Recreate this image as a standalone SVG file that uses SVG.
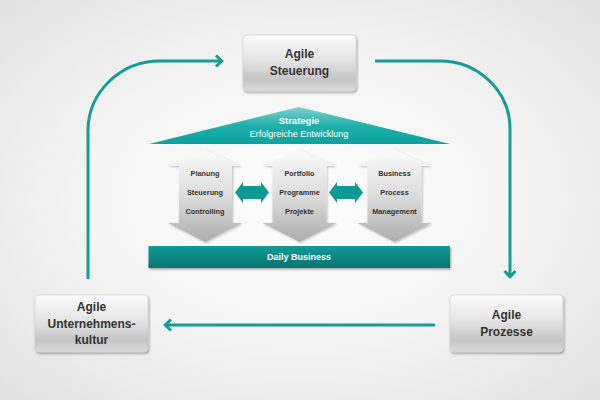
<svg xmlns="http://www.w3.org/2000/svg" width="600" height="400" viewBox="0 0 600 400">
  <defs>
    <radialGradient id="bg" cx="50%" cy="50%" r="75%">
      <stop offset="0" stop-color="#fdfdfd"/>
      <stop offset="0.5" stop-color="#f3f3f3"/>
      <stop offset="1" stop-color="#dedede"/>
    </radialGradient>
    <linearGradient id="boxGrad" x1="0" y1="0" x2="0" y2="1">
      <stop offset="0" stop-color="#fbfbfb"/>
      <stop offset="0.45" stop-color="#e4e4e4"/>
      <stop offset="0.8" stop-color="#c4c4c4"/>
      <stop offset="1" stop-color="#dcdcdc"/>
    </linearGradient>
    <linearGradient id="arrGrad" x1="0" y1="0" x2="0" y2="1">
      <stop offset="0" stop-color="#fbfbfb"/>
      <stop offset="0.5" stop-color="#dcdcdc"/>
      <stop offset="1" stop-color="#adadad"/>
    </linearGradient>
    <linearGradient id="roofGrad" x1="0" y1="0" x2="0" y2="1">
      <stop offset="0" stop-color="#7fd3cf"/>
      <stop offset="0.5" stop-color="#1fb0ab"/>
      <stop offset="1" stop-color="#0aa39e"/>
    </linearGradient>
    <linearGradient id="barGrad" x1="0" y1="0" x2="0" y2="1">
      <stop offset="0" stop-color="#129d98"/>
      <stop offset="1" stop-color="#0a716e"/>
    </linearGradient>
    <filter id="shadow" x="-10%" y="-10%" width="125%" height="135%">
      <feDropShadow dx="1" dy="1.5" stdDeviation="1.2" flood-color="#000" flood-opacity="0.35"/>
    </filter>
    <filter id="soft" x="-10%" y="-10%" width="125%" height="130%">
      <feDropShadow dx="1" dy="1" stdDeviation="0.8" flood-color="#000" flood-opacity="0.25"/>
    </filter>
    <marker id="chev" viewBox="0 0 12 14" markerWidth="12" markerHeight="14" refX="10" refY="7" orient="auto" markerUnits="userSpaceOnUse">
      <path d="M4,1.5 L9.8,7 L4,12.5" fill="none" stroke="#149d98" stroke-width="3"/>
    </marker>
    <style>
      .box { fill: url(#boxGrad); stroke: #cfcfcf; stroke-width: 0.6; filter: url(#shadow); }
      .boxText { font-family: "Liberation Sans", Arial, sans-serif; font-weight: bold; font-size: 12px; fill: #333333; text-anchor: middle; }
      .conn { fill: none; stroke: #149d98; stroke-width: 3; marker-end: url(#chev); }
      .blk { fill: url(#arrGrad); filter: url(#soft); }
      .blkText { font-family: "Liberation Sans", Arial, sans-serif; font-weight: bold; font-size: 7.3px; fill: #333333; text-anchor: middle; }
      .dbl { fill: #0e9a94; }
      .white { font-family: "Liberation Sans", Arial, sans-serif; fill: #ffffff; text-anchor: middle; }
    </style>
  </defs>

  <rect x="0" y="0" width="600" height="400" fill="url(#bg)"/>

  <g id="connectors">
    <path class="conn" d="M88,279 L88,131 A72,70 0 0 1 160,61 L222,61"/>
    <path class="conn" d="M375,61 L440,61 A70,68 0 0 1 510,129 L510,277"/>
    <path class="conn" d="M435,325 L165,325"/>
  </g>

  <g id="node-agile-steuerung">
    <rect class="box" x="243" y="35" width="113" height="56" rx="4"/>
    <text class="boxText" x="299.5" y="58">Agile</text>
    <text class="boxText" x="299.5" y="75">Steuerung</text>
  </g>

  <g id="node-agile-unternehmenskultur">
    <rect class="box" x="35" y="295" width="113" height="57" rx="4"/>
    <text class="boxText" x="91.5" y="311">Agile</text>
    <text class="boxText" x="91.5" y="327.5">Unternehmens-</text>
    <text class="boxText" x="91.5" y="344">kultur</text>
  </g>

  <g id="node-agile-prozesse">
    <rect class="box" x="450" y="295" width="113" height="57" rx="4"/>
    <text class="boxText" x="506.5" y="319">Agile</text>
    <text class="boxText" x="506.5" y="335.5">Prozesse</text>
  </g>

  <g id="node-strategie">
    <path d="M299,107 L450,144 L149,144 Z" fill="url(#roofGrad)"/>
    <text class="white" x="299" y="123.5" font-size="9.5" font-weight="bold">Strategie</text>
    <text class="white" x="299" y="136.5" font-size="9">Erfolgreiche Entwicklung</text>
  </g>

  <g id="node-planung">
    <path class="blk" d="M205,150 L242,166 L232,166 L232,223 L242,223 L205,242 L168,223 L179,223 L179,166 L168,166 Z"/>
    <text class="blkText" x="205" y="175.5">Planung</text>
    <text class="blkText" x="205" y="194.5">Steuerung</text>
    <text class="blkText" x="205" y="213.5">Controlling</text>
  </g>

  <g id="node-portfolio">
    <path class="blk" d="M299.5,150 L336.5,166 L326.5,166 L326.5,223 L336.5,223 L299.5,242 L262.5,223 L272.5,223 L272.5,166 L262.5,166 Z"/>
    <text class="blkText" x="299.5" y="175.5">Portfolio</text>
    <text class="blkText" x="299.5" y="194.5">Programme</text>
    <text class="blkText" x="299.5" y="213.5">Projekte</text>
  </g>

  <g id="node-bpm">
    <path class="blk" d="M394.5,150 L431.5,166 L421.5,166 L421.5,223 L431.5,223 L394.5,242 L357.5,223 L367.5,223 L367.5,166 L357.5,166 Z"/>
    <text class="blkText" x="394.5" y="175.5">Business</text>
    <text class="blkText" x="394.5" y="194.5">Process</text>
    <text class="blkText" x="394.5" y="213.5">Management</text>
  </g>

  <g id="node-link-1">
    <path class="dbl" d="M235,192.5 L243,182 L243,186 L261,186 L261,182 L269,192.5 L261,203 L261,199 L243,199 L243,203 Z"/>
  </g>
  <g id="node-link-2">
    <path class="dbl" d="M329,192.5 L337,182 L337,186 L355,186 L355,182 L363,192.5 L355,203 L355,199 L337,199 L337,203 Z"/>
  </g>

  <g id="node-daily-business">
    <rect x="148.5" y="246" width="301.5" height="22" fill="url(#barGrad)" filter="url(#shadow)"/>
    <text class="white" x="299" y="259.5" font-size="9" font-weight="bold">Daily Business</text>
  </g>
</svg>
